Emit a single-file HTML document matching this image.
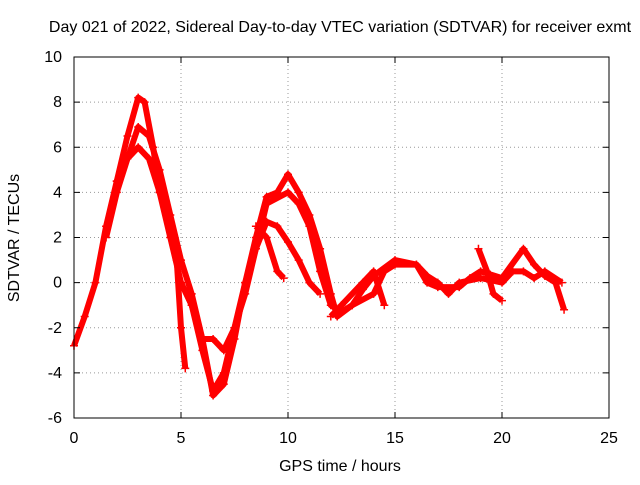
<!DOCTYPE html>
<html><head><meta charset="utf-8"><style>
body{margin:0;background:#fff}
svg text{font-family:"Liberation Sans",sans-serif;font-size:16px;fill:#000}
</style></head><body>
<svg id="chart" width="640" height="480">
<rect width="640" height="480" fill="#fff"/>
<g id="grid"></g><g id="series"></g><g id="axes"></g>
<text x="340" y="32" text-anchor="middle">Day 021 of 2022, Sidereal Day-to-day VTEC variation (SDTVAR) for receiver exmt</text>
<text x="340" y="471" text-anchor="middle">GPS time / hours</text>
<text transform="translate(19,238) rotate(-90)" text-anchor="middle">SDTVAR / TECUs</text>
</svg>
<script>
const xTicks=[0,5,10,15,20,25];
const yTicks=[-6,-4,-2,0,2,4,6,8,10];
const trackA=[[0,-2.8],[0.5,-1.5],[1,0],[1.5,2.5],[2,4.5],[2.5,6.5],[3,8.2],[3.3,8],[3.7,6],[4,4],[4.5,2],[5,0],[5.5,-1],[6,-3],[6.5,-4.8],[7,-4],[7.5,-2],[8,0],[8.5,2],[9,3.8],[9.5,4],[10,4.8],[10.5,4],[11,3],[11.5,1.5],[12,-0.5],[12.3,-1.5],[13,-1],[13.5,-0.3],[14,0.3],[15,1],[16,0.8],[16.5,0],[17,-0.2],[18,-0.2],[18.5,0.2],[19,0.5],[20,0.2],[21,1.5],[21.5,0.8],[22,0.3],[22.5,0],[22.9,-1.2]];
const trackB=[[1.5,2],[2,4],[2.5,5.5],[3,6.9],[3.5,6.5],[4,5],[4.5,3],[5,1],[5.5,-0.5],[6,-2.5],[6.5,-5],[7,-4.5],[7.5,-2.5],[8,0],[8.5,1.5],[9,3.5],[10,4],[10.5,3.5],[11,2.5],[11.5,0.5],[12,-1],[12.5,-1.3],[13,-1],[14,-0.5],[14.5,0.5],[15,0.8],[16,0.8],[16.5,0.3],[17,0],[17.5,-0.5],[18,0],[19,0.2],[20,0],[20.5,0.5],[21,0.5],[21.5,0.2],[22,0.5],[22.8,0]];
const trackC=[[2,4.5],[2.5,5.5],[3,6],[3.5,5.5],[4,4],[4.5,2.5],[4.8,1],[5,-2],[5.2,-3.8]];
const trackD=[[5,0],[5.5,-1],[6,-2.5],[6.5,-2.5],[7,-3],[7.5,-2],[8,-0.5],[8.5,1.5],[9,2.7],[9.5,2.5],[10,1.8],[10.5,1],[11,0],[11.5,-0.5]];
const trackE=[[8.5,2.5],[9,2],[9.5,0.5],[9.8,0.2]];
const trackF=[[12,-1.5],[12.5,-1],[13.5,0],[14,0.5],[14.5,-1]];
const trackG=[[18.9,1.5],[19.3,0.5],[19.6,-0.5],[20,-0.8]];
const X=v=>74+v*(609-74)/25, Y=v=>418-(v+6)*(418-57)/16;
const NS="http://www.w3.org/2000/svg";
function mk(t,a,p){const e=document.createElementNS(NS,t);for(const k in a)e.setAttribute(k,a[k]);p.appendChild(e);return e;}
const grid=document.getElementById('grid'),axes=document.getElementById('axes'),ser=document.getElementById('series');
xTicks.forEach(t=>{
 if(t>0&&t<25){const g=mk('line',{x1:X(t),x2:X(t),y1:57,y2:418,stroke:'#999','stroke-dasharray':'1,3'},grid);}
 mk('line',{x1:X(t),x2:X(t),y1:418,y2:412,stroke:'#000'},axes);mk('line',{x1:X(t),x2:X(t),y1:57,y2:63,stroke:'#000'},axes);
 const l=mk('text',{x:X(t),y:443,'text-anchor':'middle'},axes);l.textContent=t;
 
 
});
yTicks.forEach(t=>{
 if(t>-6&&t<10){const g=mk('line',{x1:74,x2:609,y1:Y(t),y2:Y(t),stroke:'#999','stroke-dasharray':'1,3'},grid);}
 mk('line',{x1:74,x2:80,y1:Y(t),y2:Y(t),stroke:'#000'},axes);mk('line',{x1:603,x2:609,y1:Y(t),y2:Y(t),stroke:'#000'},axes);
 const l=mk('text',{x:62,y:Y(t)+5,'text-anchor':'end'},axes);l.textContent=t;
 
 
});
const fr=mk('rect',{x:74,y:57,width:535,height:361,fill:'none',stroke:'#000'},axes);


[trackA,trackB,trackC,trackD,trackE,trackF,trackG].forEach((tr,i)=>{
 const pl=mk('polyline',{points:tr.map(p=>X(p[0])+','+Y(p[1])).join(' '),fill:'none',stroke:'#f00','stroke-width':6,'stroke-linejoin':'round'},ser);
 
 
 tr.forEach(p=>{const x=X(p[0]),y=Y(p[1]);
  const m=mk('path',{d:`M${x-4},${y}h8M${x},${y-4}v8`,stroke:'#f00','stroke-width':1.5},ser);
  
  
 });
});
</script>
</body></html>
